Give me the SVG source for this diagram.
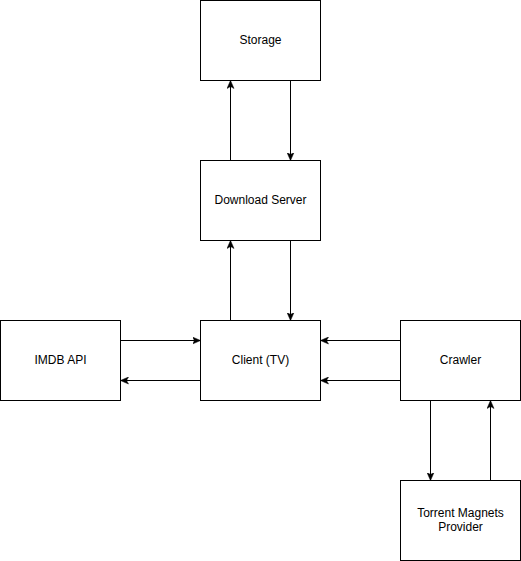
<svg xmlns="http://www.w3.org/2000/svg" width="521" height="561" viewBox="0 0 521 561">
<style>
.box{fill:#ffffff;stroke:#000000;stroke-width:1}
.lbl{font-family:"Liberation Sans",Arial,Helvetica,sans-serif;font-size:12px;fill:#000000;text-anchor:middle}
.edge{fill:none;stroke:#000000;stroke-width:1}
</style>
<defs>
<marker id="arr" viewBox="0 0 8 8" refX="7.5" refY="4" markerWidth="8" markerHeight="8" markerUnits="userSpaceOnUse" orient="auto">
<path d="M0,0.5 L8,4 L0,7.5 L2,4 Z" fill="#000000" stroke="#000000" stroke-width="0.5"/>
</marker>
</defs>
<rect width="521" height="561" fill="#ffffff"/>
<g id="connectors">
<path class="edge" d="M230.5,160.5 L230.5,81" marker-end="url(#arr)"/>
<path class="edge" d="M290.5,80.5 L290.5,160" marker-end="url(#arr)"/>
<path class="edge" d="M230.5,320.5 L230.5,241" marker-end="url(#arr)"/>
<path class="edge" d="M290.5,240.5 L290.5,320" marker-end="url(#arr)"/>
<path class="edge" d="M120.5,340.5 L200,340.5" marker-end="url(#arr)"/>
<path class="edge" d="M200.5,380.5 L121,380.5" marker-end="url(#arr)"/>
<path class="edge" d="M400.5,340.5 L321,340.5" marker-end="url(#arr)"/>
<path class="edge" d="M400.5,380.5 L321,380.5" marker-end="url(#arr)"/>
<path class="edge" d="M430.5,400.5 L430.5,480" marker-end="url(#arr)"/>
<path class="edge" d="M490.5,480.5 L490.5,401" marker-end="url(#arr)"/>
</g>
<g id="storage"><rect class="box" x="200.5" y="0.5" width="120" height="80"/><text class="lbl" x="260.5" y="43.5">Storage</text></g>
<g id="download-server"><rect class="box" x="200.5" y="160.5" width="120" height="80"/><text class="lbl" x="260.5" y="203.5">Download Server</text></g>
<g id="client"><rect class="box" x="200.5" y="320.5" width="120" height="80"/><text class="lbl" x="260.5" y="363.5">Client (TV)</text></g>
<g id="imdb"><rect class="box" x="0.5" y="320.5" width="120" height="80"/><text class="lbl" x="60.5" y="363.5">IMDB API</text></g>
<g id="crawler"><rect class="box" x="400.5" y="320.5" width="120" height="80"/><text class="lbl" x="460.5" y="363.5">Crawler</text></g>
<g id="torrent"><rect class="box" x="400.5" y="480.5" width="120" height="80"/><text class="lbl" x="460.5" y="516.5">Torrent Magnets</text><text class="lbl" x="460.5" y="530.5">Provider</text></g>
</svg>
